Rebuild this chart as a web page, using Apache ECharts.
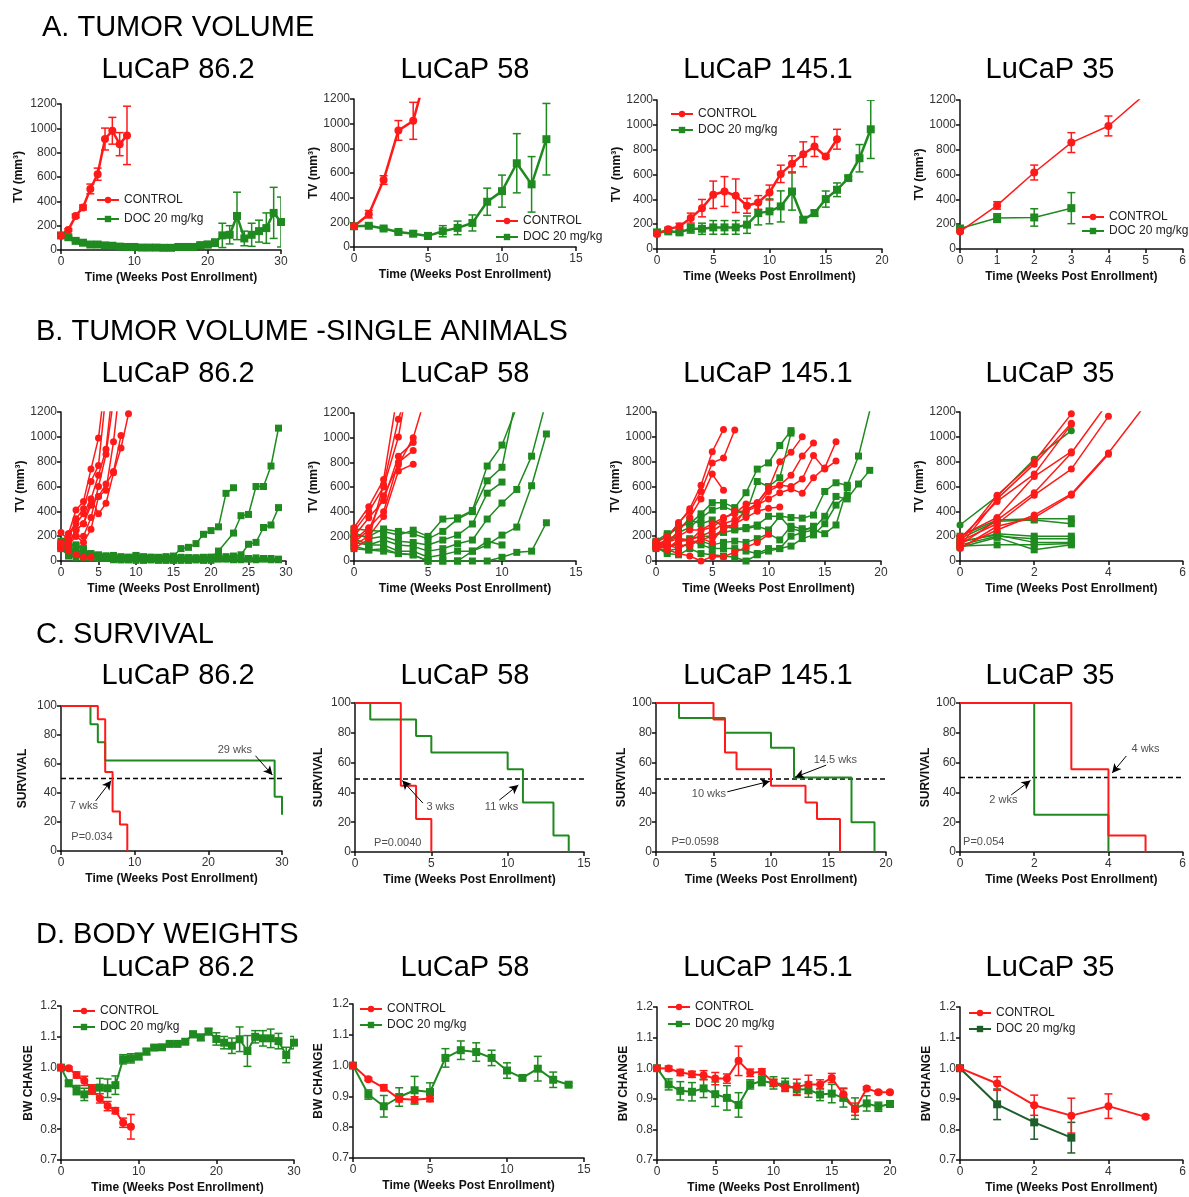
<!DOCTYPE html>
<html>
<head>
<meta charset="utf-8">
<title>LuCaP docetaxel response</title>
<script src="https://cdn.jsdelivr.net/npm/echarts@6/dist/echarts.min.js"></script>
<style>
html, body { margin: 0; padding: 0; background: #fff; }
#main { width: 1189px; height: 1197px; }
</style>
</head>
<body>
<div id="main"></div>
<script>
// 数据：周数, 均值, 误差
// A. tumor volume (mean, error)
var a1Ctrl = [[0,118,8],[1,165,10],[2,280,15],[3,350,20],[4,502,40],[5,623,50],[6,912,90],[7,980,110],[8,870,95],[9,942,240]];
var a1Doc = [[0,120,10],[1,105,8],[2,75,8],[3,60,6],[4,45,5],[5,45,5],[6,38,5],[7,35,5],[8,28,4],[9,25,4],[10,25,4],[11,20,3],[12,20,3],[13,20,3],[14,18,3],[15,18,3],[16,25,5],[17,25,5],[18,25,8],[19,40,20],[20,45,25],[21,60,30],[22,120,100],[23,125,75],[24,280,195],[25,95,60],[26,125,95],[27,155,90],[28,180,125],[29,305,210],[30,230,205]];
var a2Ctrl = [[0,168,10],[1,266,30],[2,543,35],[3,945,80],[4,1023,150],[5,1460,0]];
var a2Doc = [[0,168,15],[1,172,10],[2,150,12],[3,122,12],[4,108,20],[5,90,25],[6,128,45],[7,155,55],[8,195,65],[9,367,110],[10,453,130],[11,679,240],[12,508,225],[13,874,290]];
var a3Ctrl = [[0,120,10],[1,160,15],[2,182,25],[3,249,40],[4,329,70],[5,437,110],[6,463,120],[7,429,135],[8,348,60],[9,375,55],[10,455,60],[11,605,70],[12,686,65],[13,763,100],[14,825,80],[15,745,15],[16,884,80]];
var a3Doc = [[0,134,10],[1,142,10],[2,134,15],[3,163,35],[4,163,45],[5,174,55],[6,174,55],[7,174,55],[8,196,70],[9,289,95],[10,303,100],[11,343,125],[12,463,150],[13,236,20],[14,289,25],[15,402,65],[16,477,55],[17,571,15],[18,731,110],[19,964,235]];
var a4Ctrl = [[0,140,10],[1,351,30],[2,616,60],[3,857,80],[4,991,80],[5,1250,0]];
var a4Doc = [[0,165,15],[1,249,35],[2,254,70],[3,329,125]];

// B. single animals, one list per animal, index = week
var b1Ctrl = [
  [150,220,410,480,740,990,1500],
  [120,170,340,420,640,770,1350],
  [100,130,250,300,500,690,900,1450],
  [230,170,200,200,350,600,860,1300],
  [150,130,200,150,255,520,570,960,1500],
  [100,80,50,30,30],
  [120,220,300,380,500,380,465,710,910,1185],
  [140,150,250,300,450,520,620,720,1010]
];
var b1Doc = [
  [150,110,130,90,50,40,40,45,35,30,45,35,30,30,35,40,100,110,140,215,245,275,545,590],
  [130,90,100,60,45,35,30,30,25,20,30,25,20,25,20,25,30,25,25,30,30,80,null,225,365,375,600,600,765,1070],
  [110,60,50,40,35,30,30,25,20,25,20,20,25,20,20,25,20,25,25,20,30,30,35,40,50,135,150,270,290,430],
  [100,40,30,30,25,20,20,15,10,10,15,10,10,15,10,10,15,10,10,10,15,15,15,10,10,15,10,15,10,10],
  [160,150,120,100,60,50,40,40,30,30,40,30,30,20,30,30,25,25,20,20,25,20,25,30,25,20,25,20,20,15],
  [120,100,60,40,30,20,20,10,10,10,5,5,10,5,5,5,5,5,10,5,5],
  [100,110,70,50,40,40,35,30,20,20,30,20,20,20]
];
var b2Ctrl = [
  [270,440,660,1400],
  [240,400,600,1005,1700],
  [200,350,490,850,960],
  [170,270,400,800,895],
  [130,200,360,730,785],
  [100,180,620,1150,1500],
  [150,250,530,780,1000,1400]
];
var b2Doc = [
  [260,250,240,210,250,200,340,350,410,770,940,1250],
  [200,200,260,240,220,180,240,340,400,650,760,1350],
  [230,180,200,160,150,130,170,210,300,550,640],
  [180,130,170,130,120,80,100,140,170,340,470,580,850,1300],
  [150,130,130,80,80,30,50,80,80,130,210,275,610,1030],
  [120,90,100,60,50,0,0,0,80,160,130],
  [100,90,80,60,50,0,0,0,0,0,30,70,80,310]
];
var b3Ctrl = [
  [150,200,300,420,610,880,1060],
  [120,180,310,400,560,790,830,1055],
  [100,150,240,350,500,700,570],
  [150,150,200,250,250,300,350,380,460,470,580,800,875,1000],
  [130,150,180,170,200,240,300,330,400,440,560,610,690,845,950],
  [110,130,100,150,170,200,250,300,350,400,425,435],
  [100,90,60,40,0,35,35,70,110,150,215],
  [100,120,130,120,180,150,280,290,420,450,500,550,580,545,670,750,960],
  [160,100,170,160,250,270,340,400,400,470,590,610,600,660,850,740,805]
];
var b3Doc = [
  [150,200,280,300,380,470,470,430,550,740,790,930,1050],
  [120,150,230,270,350,410,440,400,380,640,600,670,1030],
  [130,100,150,180,200,200,230,250,260,280,250,360,350,345,370,560,630,610,845,1210],
  [100,80,100,150,160,130,150,160,150,180,220,170,280,260,260,360,520,500,620,730],
  [150,200,180,170,130,100,100,100,80,60,100,100,200,230,250,220,290,590],
  [110,60,50,100,60,50,40,30,0,50,80,100,120,180,210,300,450,530],
  [160,220,260,330,300,330,280,260,270,290,360,360,260,240,280]
];
var b4Ctrl = [
  [150,530,800,1185],
  [120,500,780,1110],
  [180,480,700,1100],
  [200,350,680,880],
  [130,330,550,870,1280],
  [160,300,530,740,1165],
  [110,250,370,540,870,1260],
  [100,280,350,530,860]
];
var b4DocRound = [290,520,820,1050];
var b4Doc = [
  [200,330,340,340],
  [180,320,330,300],
  [150,220,200,200],
  [130,200,180,180],
  [160,210,150,150],
  [120,130,130,140],
  [110,190,90,130]
];

// C. survival (week, % surviving)
var c1Ctrl = [[0,100],[5,90.9],[6,54.5],[7,27.3],[8,18.2],[9,0]];
var c1Doc = [[0,100],[4,87.5],[5,75],[6,62.5],[29,37.5],[30,25]];
var c2Ctrl = [[0,100],[3,44.4],[4,22.2],[5,0]];
var c2Doc = [[0,100],[1,88.9],[4,77.8],[5,66.7],[10,55.6],[11,33.3],[13,11.1],[14,0]];
var c3Ctrl = [[0,100],[5,88.9],[6,66.7],[7,55.6],[10,44.4],[13,33.3],[14,22.2],[16,0]];
var c3Doc = [[0,100],[2,90],[6,80],[10,70],[12,50],[17,20],[19,0]];
var c4Ctrl = [[0,100],[3,55.6],[4,11.1],[5,0]];
var c4Doc = [[0,100],[2,25],[4,0]];

// D. body weight change
var d1Ctrl = [[0,1.0,0],[1,0.998,0.005],[2,0.976,0.01],[3,0.957,0.015],[4,0.929,0.015],[5,0.900,0.015],[6,0.875,0.015],[7,0.860,0.01],[8,0.821,0.015],[9,0.808,0.04]];
var d1Doc = [[0,1.0,0],[1,0.949,0.01],[2,0.927,0.015],[3,0.913,0.02],[4,0.929,0.015],[5,0.935,0.03],[6,0.933,0.03],[7,0.943,0.03],[8,1.027,0.015],[9,1.030,0.015],[10,1.036,0.01],[11,1.052,0.01],[12,1.065,0.005],[13,1.066,0.005],[14,1.077,0.005],[15,1.077,0.005],[16,1.084,0.005],[17,1.108,0.01],[18,1.098,0.01],[19,1.117,0.01],[20,1.093,0.02],[21,1.081,0.02],[22,1.071,0.025],[23,1.092,0.04],[24,1.054,0.05],[25,1.100,0.02],[26,1.095,0.025],[27,1.095,0.03],[28,1.086,0.025],[29,1.041,0.025],[30,1.081,0.02]];
var d2Ctrl = [[0,1.0,0],[1,0.956,0.005],[2,0.928,0.01],[3,0.892,0.01],[4,0.889,0.01],[5,0.893,0.01]];
var d2Doc = [[0,1.0,0],[1,0.906,0.015],[2,0.868,0.035],[3,0.898,0.03],[4,0.920,0.045],[5,0.914,0.03],[6,1.025,0.03],[7,1.050,0.03],[8,1.044,0.03],[9,1.025,0.025],[10,0.984,0.025],[11,0.960,0.005],[12,0.990,0.04],[13,0.954,0.025],[14,0.938,0.005]];
var d3Ctrl = [[0,1.0,0],[1,0.999,0.008],[2,0.986,0.01],[3,0.980,0.01],[4,0.977,0.015],[5,0.966,0.02],[6,0.966,0.015],[7,1.024,0.048],[8,0.985,0.012],[9,0.988,0.01],[10,0.952,0.012],[11,0.936,0.012],[12,0.939,0.025],[13,0.947,0.03],[14,0.947,0.015],[15,0.968,0.015],[16,0.915,0.02],[17,0.866,0.02],[18,0.934,0.005],[19,0.921,0.005],[20,0.921,0.005]];
var d3Doc = [[0,1.0,0],[1,0.947,0.018],[2,0.926,0.03],[3,0.923,0.03],[4,0.934,0.03],[5,0.915,0.04],[6,0.903,0.04],[7,0.880,0.04],[8,0.947,0.015],[9,0.958,0.015],[10,0.952,0.02],[11,0.947,0.02],[12,0.931,0.02],[13,0.930,0.025],[14,0.914,0.02],[15,0.917,0.03],[16,0.903,0.03],[17,0.868,0.035],[18,0.885,0.025],[19,0.874,0.015],[20,0.883,0.01]];
var d4Ctrl = [[0,1.0,0],[1,0.950,0.022],[2,0.879,0.033],[3,0.845,0.057],[4,0.876,0.04],[5,0.841,0.005]];
var d4Doc = [[0,1.0,0],[1,0.882,0.05],[2,0.823,0.055],[3,0.773,0.05]];

var sectionTitles = ['A. TUMOR VOLUME', 'B. TUMOR VOLUME -SINGLE ANIMALS', 'C. SURVIVAL', 'D. BODY WEIGHTS'];
var modelNames = ['LuCaP 86.2', 'LuCaP 58', 'LuCaP 145.1', 'LuCaP 35'];

var FONT = '"Liberation Sans", Arial, Helvetica, sans-serif';
var RED = '#ff1a1a', GREEN = '#1f8a1f', DKGREEN = '#1e5e2a';
var XNAME = 'Time (Weeks Post Enrollment)';

// 每个小图的位置 [left, top, width, height]
var panels = [
  {g:[61,104,220,146], x:[0,30,10], y:[0,1200,200], n:'TV (mm³)', gap:36},
  {g:[354,99,222,148], x:[0,15,5], y:[0,1200,200], n:'TV (mm³)', gap:32},
  {g:[657,100,225,149], x:[0,20,5], y:[0,1200,200], n:'TV  (mm³)', gap:32},
  {g:[960,100,224,149], x:[0,6,1], y:[0,1200,200], n:'TV (mm³)', gap:33},
  {g:[61,412,225,149], x:[0,30,5], y:[0,1200,200], n:'TV (mm³)', gap:34},
  {g:[354,413,222,148], x:[0,15,5], y:[0,1200,200], n:'TV (mm³)', gap:29},
  {g:[656,412,225,149], x:[0,20,5], y:[0,1200,200], n:'TV (mm³)', gap:31},
  {g:[960,412,224,149], x:[0,6,2], y:[0,1200,200], n:'TV (mm³)', gap:31},
  {g:[61,706,221,145], x:[0,30,10], y:[0,100,20], n:'SURVIVAL', gap:32},
  {g:[355,703,229,149], x:[0,15,5], y:[0,100,20], n:'SURVIVAL', gap:30},
  {g:[656,703,230,149], x:[0,20,5], y:[0,100,20], n:'SURVIVAL', gap:28},
  {g:[960,703,226,149], x:[0,6,2], y:[0,100,20], n:'SURVIVAL', gap:28},
  {g:[61,1006,233,154], x:[0,30,10], y:[0.7,1.2,0.1], n:'BW CHANGE', gap:26},
  {g:[353,1004,231,154], x:[0,15,5], y:[0.7,1.2,0.1], n:'BW CHANGE', gap:28},
  {g:[657,1007,233,153], x:[0,20,5], y:[0.7,1.2,0.1], n:'BW CHANGE', gap:27},
  {g:[960,1007,230,153], x:[0,6,2], y:[0.7,1.2,0.1], n:'BW CHANGE', gap:27}
];

var grids = [], xAxes = [], yAxes = [], series = [], legends = [], graphics = [];

panels.forEach(function (p, i) {
  grids.push({left: p.g[0], top: p.g[1], width: p.g[2], height: p.g[3]});
  var isBW = p.y[2] < 1;
  var line = {lineStyle: {color: '#111', width: 1.5}};
  var tick = {show: true, length: 4, lineStyle: {color: '#111', width: 1.5}};
  var nameStyle = {color: '#111', fontSize: 12, fontWeight: 'bold', fontFamily: FONT};
  xAxes.push({
    gridIndex: i, type: 'value', min: p.x[0], max: p.x[1], interval: p.x[2],
    axisLine: line, axisTick: tick, splitLine: {show: false},
    axisLabel: {color: '#333', fontSize: 12, fontFamily: FONT, margin: 6, formatter: function (v) { return String(v); }},
    name: XNAME, nameLocation: 'middle', nameGap: 22, nameTextStyle: nameStyle
  });
  yAxes.push({
    gridIndex: i, type: 'value', min: p.y[0], max: p.y[1], interval: p.y[2],
    axisLine: line, axisTick: tick, splitLine: {show: false},
    axisLabel: {color: '#333', fontSize: 12, fontFamily: FONT, margin: 4,
      formatter: isBW ? function (v) { return v.toFixed(1); } : function (v) { return String(v); }},
    name: p.n, nameLocation: 'middle', nameGap: p.gap, nameRotate: 90, nameTextStyle: nameStyle
  });
});

function meanLine(idx, name, data, color, symbol, lw) {
  return {
    type: 'line', name: name, xAxisIndex: idx, yAxisIndex: idx,
    data: data.map(function (d) { return [d[0], d[1]]; }),
    symbol: symbol, symbolSize: 8,
    lineStyle: {color: color, width: lw}, itemStyle: {color: color},
    z: 3
  };
}

function errBars(idx, data, color, cap) {
  return {
    type: 'custom', xAxisIndex: idx, yAxisIndex: idx, silent: true, clip: true, z: 2,
    data: data.filter(function (d) { return d[2] > 0; })
      .map(function (d) { return [d[0], d[1] - d[2], d[1] + d[2]]; }),
    encode: {x: 0, y: [1, 2]},
    renderItem: function (params, api) {
      var lo = api.coord([api.value(0), api.value(1)]);
      var hi = api.coord([api.value(0), api.value(2)]);
      var st = {stroke: color, lineWidth: 1.5};
      return {type: 'group', children: [
        {type: 'line', shape: {x1: lo[0], y1: lo[1], x2: hi[0], y2: hi[1]}, style: st},
        {type: 'line', shape: {x1: lo[0] - cap, y1: lo[1], x2: lo[0] + cap, y2: lo[1]}, style: st},
        {type: 'line', shape: {x1: hi[0] - cap, y1: hi[1], x2: hi[0] + cap, y2: hi[1]}, style: st}
      ]};
    }
  };
}

function meanPanel(idx, tag, ctrl, doc, lw, docColor, cap) {
  series.push(errBars(idx, doc, docColor, cap));
  series.push(errBars(idx, ctrl, RED, cap));
  series.push(meanLine(idx, tag + '|DOC 20 mg/kg', doc, docColor, 'rect', lw));
  series.push(meanLine(idx, tag + '|CONTROL', ctrl, RED, 'circle', lw));
}

function animals(idx, list, color, symbol) {
  list.forEach(function (vals, k) {
    series.push({
      type: 'line', name: 'animal' + idx + '_' + k + symbol, xAxisIndex: idx, yAxisIndex: idx,
      data: vals.map(function (v, w) { return [w, v]; }),
      connectNulls: true, symbol: symbol, symbolSize: 7,
      lineStyle: {color: color, width: 1.5}, itemStyle: {color: color}
    });
  });
}

function survival(idx, ctrl, doc, median, notes, arrows) {
  series.push({
    type: 'line', xAxisIndex: idx, yAxisIndex: idx, symbol: 'none',
    data: [[panels[idx].x[0], median], [panels[idx].x[1], median]],
    lineStyle: {color: '#000', width: 1.5, type: [5, 3]}
  });
  [[doc, GREEN], [ctrl, RED]].forEach(function (s) {
    series.push({
      type: 'line', step: 'end', xAxisIndex: idx, yAxisIndex: idx, symbol: 'none',
      data: s[0], lineStyle: {color: s[1], width: 2}
    });
  });
  series.push({
    type: 'scatter', xAxisIndex: idx, yAxisIndex: idx, symbolSize: 0, z: 5,
    data: notes.map(function (t) { return {name: t[0], value: [t[1], t[2]]}; }),
    label: {show: true, position: 'inside', formatter: '{b}', color: '#222', fontSize: 11, fontFamily: FONT},
    markLine: {
      silent: true, symbol: ['none', 'arrow'], symbolSize: [7, 9],
      lineStyle: {color: '#000', width: 1, type: 'solid'}, label: {show: false},
      data: arrows.map(function (a) { return [{coord: [a[0], a[1]]}, {coord: [a[2], a[3]]}]; })
    }
  });
}

// row A
meanPanel(0, 'A1', a1Ctrl, a1Doc, 2.5, GREEN, 4);
meanPanel(1, 'A2', a2Ctrl, a2Doc, 2.5, GREEN, 4);
meanPanel(2, 'A3', a3Ctrl, a3Doc, 2.5, GREEN, 4);
meanPanel(3, 'A4', a4Ctrl, a4Doc, 1.5, GREEN, 4);
// row B
animals(4, b1Doc, GREEN, 'rect'); animals(4, b1Ctrl, RED, 'circle');
animals(5, b2Doc, GREEN, 'rect'); animals(5, b2Ctrl, RED, 'circle');
animals(6, b3Doc, GREEN, 'rect'); animals(6, b3Ctrl, RED, 'circle');
animals(7, b4Doc, GREEN, 'rect'); animals(7, [b4DocRound], GREEN, 'circle'); animals(7, b4Ctrl, RED, 'circle');
// row C
survival(8, c1Ctrl, c1Doc, 50,
  [['7 wks', 3.1, 31], ['29 wks', 23.6, 69.6], ['P=0.034', 4.2, 10]],
  [[4.7, 34.5, 6.8, 48.5], [26.4, 65.7, 28.7, 52.4]]);
survival(9, c2Ctrl, c2Doc, 49,
  [['3 wks', 5.6, 30], ['11 wks', 9.6, 30], ['P=0.0040', 2.8, 6]],
  [[4.45, 32.8, 3.1, 48], [9.45, 34.8, 10.7, 45]]);
survival(10, c3Ctrl, c3Doc, 49,
  [['14.5 wks', 15.6, 62], ['10 wks', 4.6, 39], ['P=0.0598', 3.4, 7]],
  [[14.8, 58.3, 12.1, 50.2], [6.2, 40.4, 9.9, 47.5]]);
survival(11, c4Ctrl, c4Doc, 50,
  [['4 wks', 5.0, 69], ['2 wks', 1.17, 35], ['P=0.054', 0.64, 7]],
  [[4.48, 64.4, 4.1, 53], [1.38, 38.3, 1.9, 48]]);
// row D
meanPanel(12, 'D1', d1Ctrl, d1Doc, 2, GREEN, 4);
meanPanel(13, 'D2', d2Ctrl, d2Doc, 2, GREEN, 4);
meanPanel(14, 'D3', d3Ctrl, d3Doc, 2, GREEN, 4);
meanPanel(15, 'D4', d4Ctrl, d4Doc, 2, DKGREEN, 4);

// 图例
[['A1', 96, 194, 7], ['A2', 495, 215, 4], ['A3', 670, 108, 4], ['A4', 1081, 211, 2],
 ['D1', 72, 1005, 4], ['D2', 359, 1003, 4], ['D3', 667, 1001, 5], ['D4', 968, 1007, 4]].forEach(function (l) {
  legends.push({
    left: l[1], top: l[2], orient: 'vertical', itemGap: l[3], itemWidth: 22, itemHeight: 8,
    padding: 0, selectedMode: false,
    data: [l[0] + '|CONTROL', l[0] + '|DOC 20 mg/kg'],
    formatter: function (n) { return n.split('|')[1]; },
    textStyle: {color: '#222', fontSize: 12, fontFamily: FONT}
  });
});

// 标题
var sectionPos = [[42, 28], [36, 332], [36, 635], [36, 935]];
var titleRowY = [70, 374, 676, 968];
var titleColX = [178, 465, 768, 1050];
sectionTitles.forEach(function (t, r) {
  graphics.push({type: 'text', x: sectionPos[r][0], y: sectionPos[r][1],
    style: {text: t, fontSize: 29, fontFamily: FONT, fill: '#000', align: 'left', verticalAlign: 'middle'}});
  modelNames.forEach(function (m, c) {
    graphics.push({type: 'text', x: titleColX[c], y: titleRowY[r],
      style: {text: m, fontSize: 29, fontFamily: FONT, fill: '#000', align: 'center', verticalAlign: 'middle'}});
  });
});

var chart = echarts.init(document.getElementById('main'));
chart.setOption({
  animation: false,
  backgroundColor: '#fff',
  textStyle: {fontFamily: FONT},
  grid: grids,
  xAxis: xAxes,
  yAxis: yAxes,
  legend: legends,
  graphic: graphics,
  series: series
});
</script>
</body>
</html>
